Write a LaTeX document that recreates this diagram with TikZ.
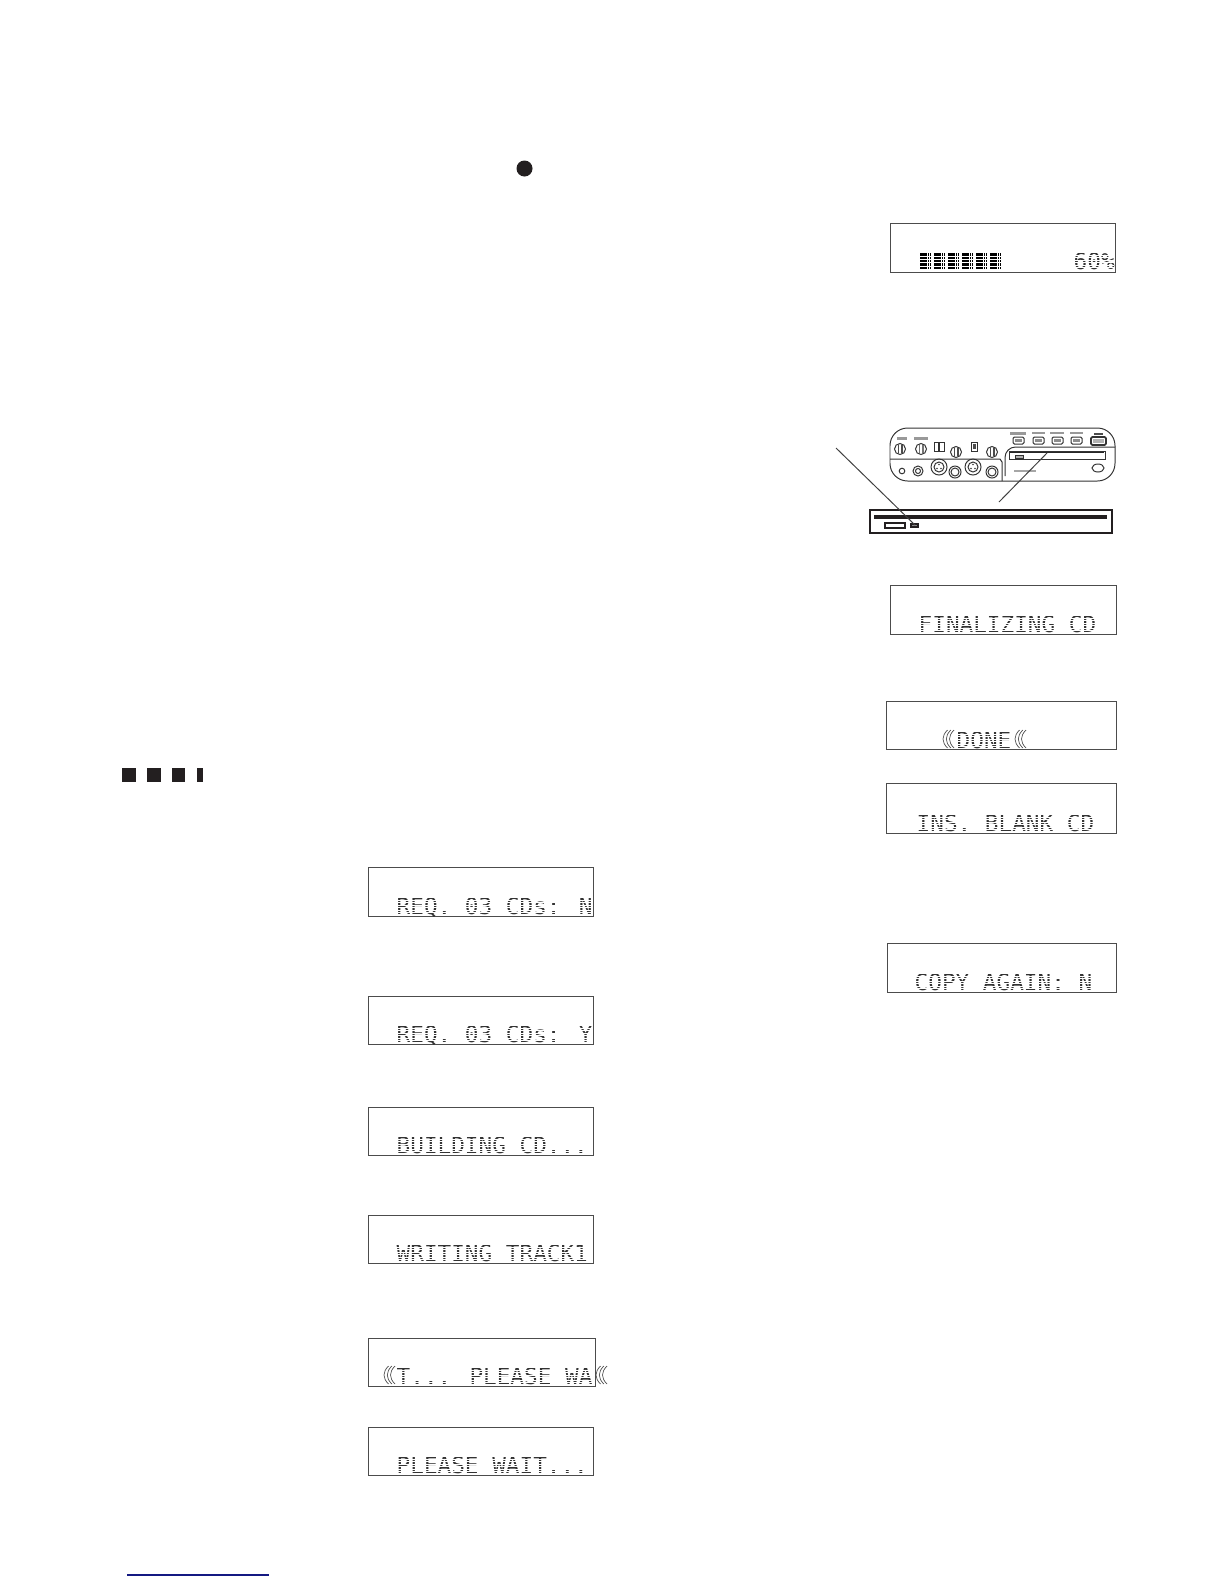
\documentclass[tikz,border=0pt]{standalone}
\usepackage{fontspec}
\usepackage{xcolor}
\usetikzlibrary{positioning}
\newfontfamily\lcdfont{DejaVu Sans Mono}
\definecolor{linkblue}{RGB}{20,25,130}
\definecolor{inkdark}{RGB}{35,31,32}
\tikzset{
    lcdbox/.style={draw=black!70, line width=0.22pt},
    lcdtext/.style={anchor=base west, inner sep=0pt, text=black!80, font=\fontsize{6.45pt}{8pt}\lcdfont},
    scrollline/.style={draw=black!70, line width=0.2pt},
    panelline/.style={draw=black!80, line width=0.28pt},
    leader/.style={draw=black!75, line width=0.28pt},
    maskline/.style={draw=white, line width=0.2pt},
    pics/scrollmark/.style={code={
        \draw[scrollline] (4.5,0) .. controls (-1.5,6) and (-1.5,12) .. (4.5,18);
        \draw[scrollline] (7.8,0) .. controls (1.8,6) and (1.8,12) .. (7.8,18);
        \draw[scrollline] (11,0) .. controls (5,6) and (5,12) .. (11,18);
    }},
    pics/dotmask/.style={code={
        \foreach \k in {-16.2,-13.7,...,-0.5}{
            \draw[maskline] (0,\k) -- (#1,\k);
        }
    }}
}

\begin{document}
\begin{tikzpicture}[x=0.01cm, y=-0.01cm]
    \useasboundingbox (0,0) rectangle (1224,1584);

    % ---- BULLET ----
    \fill[inkdark] (524.5,168.5) circle (8);

    % ---- BARRA 60% ----
    \draw[lcdbox] (890,223) rectangle (1115,272);
    \foreach \bx in {920,934,948,962,976,990}{
        \fill[black] (\bx,253) rectangle ++(11,16);
        \draw[white, line width=0.13pt] (\bx,256.2) -- ++(11,0);
        \draw[white, line width=0.13pt] (\bx,259.4) -- ++(11,0);
        \draw[white, line width=0.13pt] (\bx,262.6) -- ++(11,0);
        \draw[white, line width=0.13pt] (\bx,265.8) -- ++(11,0);
        \draw[white, line width=0.15pt] (\bx+7,253) -- ++(0,16);
        \draw[white, line width=0.15pt] (\bx+9,253) -- ++(0,16);
    }
    \node[lcdtext] (percent) at (1073,269) {60\%};
    \pic at (1073,269) {dotmask=41};

    % ---- PANNELLO ----
    \draw[panelline, rounded corners=5pt] (890,481) -- (890,428) -- (1115,428) -- (1115,481) -- cycle;
    \draw[panelline] (890,459) -- (930,459) -- (1000,459) -- (1002,462) -- (1002,481);
    \draw[panelline, rounded corners=3pt] (1005,476) -- (1005,447) -- (1115,447);
    % manopole
    \draw[panelline] (900,449) circle (5.5);
    \fill[black!70] (897.5,445) rectangle (902.5,453);
    \fill[white] (899.3,445) rectangle (900.7,453);
    \draw[panelline] (921,449) circle (5.5);
    \fill[black!55] (918.5,445) rectangle (923.5,453);
    \fill[white] (920.3,445) rectangle (921.7,453);
    \draw[panelline] (956,452) circle (5.5);
    \fill[black!70] (953.5,448) rectangle (958.5,456);
    \fill[white] (955.3,448) rectangle (956.7,456);
    \draw[panelline] (992,452) circle (5.5);
    \fill[black!70] (989.5,448) rectangle (994.5,456);
    \fill[white] (991.3,448) rectangle (992.7,456);
    \draw[panelline] (934,442) rectangle (944,451);
    \draw[black!80, line width=0.4pt] (939,442) -- (939,451);
    \draw[panelline] (971,442) rectangle (977,451);
    \fill[black!70] (972.5,444) rectangle (975.5,449);
    % connettori
    \draw[panelline] (939,467) circle (8);
    \draw[panelline] (939,467) circle (5);
    \fill[black!75] (939,464.5) circle (0.9);
    \fill[black!75] (937,468.5) circle (0.9);
    \fill[black!75] (941,468.5) circle (0.9);
    \draw[panelline] (973,467) circle (8);
    \draw[panelline] (973,467) circle (5);
    \fill[black!75] (973,464.5) circle (0.9);
    \fill[black!75] (971,468.5) circle (0.9);
    \fill[black!75] (975,468.5) circle (0.9);
    \draw[panelline] (955,472) circle (6);
    \draw[panelline] (955,472) circle (4);
    \draw[panelline] (992,472) circle (6);
    \draw[panelline] (992,472) circle (4);
    \draw[panelline] (902,471) circle (2.8);
    \draw[panelline] (918,471) circle (5);
    \draw[panelline] (918,471) circle (2.5);
    % tasti
    \draw[panelline, rounded corners=0.4pt] (1013,437) rectangle (1024,444);
    \fill[black!45] (1015,439) rectangle (1022,442);
    \draw[panelline, rounded corners=0.4pt] (1033,437) rectangle (1044,444);
    \fill[black!45] (1035,439) rectangle (1042,442);
    \draw[panelline, rounded corners=0.4pt] (1052,437) rectangle (1063,444);
    \fill[black!45] (1054,439) rectangle (1061,442);
    \draw[panelline, rounded corners=0.4pt] (1071,437) rectangle (1082,444);
    \fill[black!45] (1073,439) rectangle (1080,442);
    \draw[panelline, line width=0.5pt, rounded corners=0.4pt] (1091,437) rectangle (1106,445);
    \fill[black!30] (1093,439) rectangle (1104,443);
    \fill[black!70] (1094,432.5) rectangle (1103,434.5);
    % scritte minuscole sopra i tasti
    \draw[black!40, line width=0.6pt] (1010,433.5) -- (1026,433.5);
    \draw[black!40, line width=0.6pt] (1032,433) -- (1045,433);
    \draw[black!40, line width=0.6pt] (1050,433) -- (1064,433);
    \draw[black!40, line width=0.6pt] (1070,433) -- (1083,433);
    \draw[black!40, line width=0.6pt] (897,438.5) -- (907,438.5);
    \draw[black!40, line width=0.6pt] (914,438.5) -- (928,438.5);
    % vassoio CD
    \draw[panelline] (1009,451) rectangle (1105,459);
    \draw[black!85, line width=0.5pt] (1010,452.5) -- (1104,452.5);
    \draw[panelline, fill=black!30] (1015,455) rectangle (1023,458);
    \draw[panelline] (1098,468) ellipse (6 and 4);
    \draw[black!35, line width=0.6pt] (1014,471) -- (1036,471);

    % ---- SLOT INGRANDITO ----
    \draw[inkdark, line width=0.65pt] (870,510) rectangle (1112,533);
    \fill[inkdark] (874,514.5) rectangle (1107,518.5);
    \draw[inkdark, line width=0.55pt] (885,523) rectangle (905,528);
    \draw[inkdark, line width=0.3pt, fill=black!45] (911,524) rectangle (918,527);

    % ---- LINEE DI RICHIAMO ----
    \coordinate (ledfar) at (836,448);
    \coordinate (ledtip) at (915,525);
    \coordinate (slotfar) at (999,502);
    \coordinate (slottip) at (1047,453);
    \draw[leader] (ledfar) -- (ledtip);
    \draw[leader] (slotfar) -- (slottip);

    % ---- DISPLAY COLONNA DESTRA ----
    \draw[lcdbox] (890,585) rectangle (1116,634);
    \node[lcdtext] (finalizing) at (918,632) {FINALIZING CD};
    \pic at (917,632) {dotmask=184};

    \draw[lcdbox] (886,701) rectangle (1116,749);
    \node[lcdtext] (done) at (956,748) {DONE};
    \pic at (955,748) {dotmask=58};
    \pic at (943,730) {scrollmark};
    \pic at (1015,730) {scrollmark};

    \draw[lcdbox] (886,783) rectangle (1116,833);
    \node[lcdtext] (insblank) at (916,831) {INS. BLANK CD};
    \pic at (915,831) {dotmask=184};

    \draw[lcdbox] (887,943) rectangle (1116,992);
    \node[lcdtext] (copyagain) at (914,990) {COPY AGAIN: N};
    \pic at (913,990) {dotmask=188};

    % ---- QUADRATINI ----
    \fill[inkdark] (122,768) rectangle (136,782);
    \fill[inkdark] (147,768) rectangle (161,782);
    \fill[inkdark] (172,768) rectangle (185,782);
    \fill[inkdark] (197,768) rectangle (203,782);

    % ---- DISPLAY COLONNA SINISTRA ----
    \draw[lcdbox] (368,867.5) rectangle (593.5,916);
    \node[lcdtext] (reqno) at (396,914) {REQ. 03 CDs: N};
    \pic at (395,914) {dotmask=197};

    \draw[lcdbox] (368,996) rectangle (593.5,1044);
    \node[lcdtext] (reqyes) at (396,1042) {REQ. 03 CDs: Y};
    \pic at (395,1042) {dotmask=197};

    \draw[lcdbox] (368,1107) rectangle (593.5,1155);
    \node[lcdtext] (building) at (396,1153) {BUILDING CD...};
    \pic at (395,1153) {dotmask=197};

    \draw[lcdbox] (368,1215) rectangle (593.5,1263);
    \node[lcdtext] (writing) at (396,1261) {WRITING TRACK1};
    \pic at (395,1261) {dotmask=197};

    \draw[lcdbox] (368,1338) rectangle (595,1386);
    \node[lcdtext] (scrollwait) at (396,1384) {T... PLEASE WA};
    \pic at (395,1384) {dotmask=198};
    \pic at (384,1366) {scrollmark};
    \pic at (596,1366) {scrollmark};

    \draw[lcdbox] (368,1427) rectangle (593,1475);
    \node[lcdtext] (pleasewait) at (396,1473) {PLEASE WAIT...};
    \pic at (395,1473) {dotmask=197};

    % ---- LINK ----
    \draw[linkblue, line width=0.35pt] (127,1575) -- (269,1575);
\end{tikzpicture}
\end{document}
